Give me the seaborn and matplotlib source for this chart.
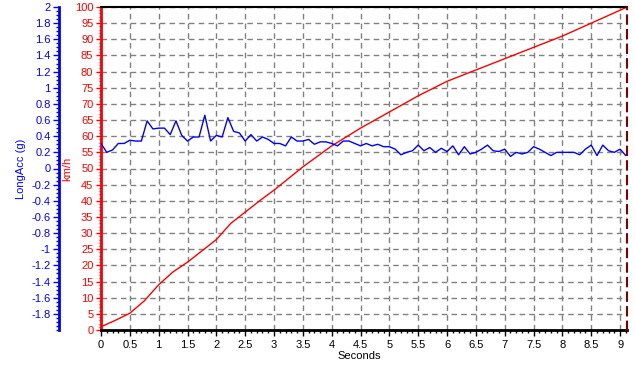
import numpy as np
import pandas as pd
import seaborn as sns
import matplotlib.pyplot as plt
import matplotlib.ticker as mticker


# longitudinal acceleration, sampled every 0.1 s (0.0 .. 9.1 s)
acc_time = [round(i * 0.1, 1) for i in range(92)]
long_acc = [
    0.31, 0.20, 0.23, 0.31, 0.31, 0.35, 0.34, 0.34, 0.59, 0.49,
    0.50, 0.50, 0.42, 0.59, 0.41, 0.34, 0.39, 0.39, 0.66, 0.34,
    0.41, 0.39, 0.63, 0.46, 0.44, 0.34, 0.42, 0.34, 0.39, 0.36,
    0.31, 0.31, 0.28, 0.39, 0.34, 0.34, 0.36, 0.30, 0.33, 0.33,
    0.31, 0.28, 0.34, 0.34, 0.31, 0.28, 0.31, 0.28, 0.30, 0.27,
    0.27, 0.24, 0.17, 0.20, 0.22, 0.29, 0.22, 0.26, 0.20, 0.25,
    0.21, 0.28, 0.17, 0.27, 0.18, 0.20, 0.24, 0.29, 0.22, 0.21,
    0.24, 0.15, 0.20, 0.18, 0.20, 0.27, 0.24, 0.20, 0.16, 0.20,
    0.20, 0.20, 0.20, 0.17, 0.24, 0.29, 0.16, 0.29, 0.22, 0.20,
    0.24, 0.16,
]

# vehicle speed
speed_time = [0, 0.25, 0.5, 0.75, 1, 1.25, 1.5, 1.75, 2, 2.25, 2.5, 2.75, 3, 3.5,
              4, 4.5, 4.75, 5, 5.25, 5.5, 6, 6.5, 7, 7.5, 8, 8.5, 9, 9.12]
speed_kmh = [1, 3, 5.2, 9, 14, 18, 21, 24.5, 28, 33, 36.5, 40, 43.3, 50.5,
             57, 62.5, 65, 67.5, 70, 72.5, 77, 80.5, 84, 87.5, 91, 95, 99, 100]

W, H = 635, 365
sns.set_style('white')
plt.rcParams['font.family'] = ['Liberation Sans', 'DejaVu Sans']
FS = 8

fig = plt.figure(figsize=(W / 100, H / 100), dpi=100)
ax = fig.add_axes([101 / W, 35 / H, 526 / W, 323 / H])
ax2 = ax.twinx()

df_speed = pd.DataFrame({'t': speed_time, 'v': speed_kmh})
df_acc = pd.DataFrame({'t': acc_time, 'a': long_acc})

sns.lineplot(data=df_speed, x='t', y='v', ax=ax, color='#ff0000', linewidth=1)
sns.lineplot(data=df_acc, x='t', y='a', ax=ax2, color='#0000ff', linewidth=1)

ax.set_xlim(0, 9.12)
ax.set_ylim(0, 100)
ax2.set_ylim(-2, 2)

fmt = mticker.FuncFormatter(lambda v, p: '{:g}'.format(round(v, 2) + 0.0))

# x axis
ax.xaxis.set_major_locator(mticker.MultipleLocator(0.5))
ax.xaxis.set_minor_locator(mticker.MultipleLocator(0.1))
ax.xaxis.set_major_formatter(fmt)
ax.tick_params(axis='x', which='major', length=4, width=1, colors='black',
               labelsize=FS, direction='out', bottom=True, pad=3)
ax.tick_params(axis='x', which='minor', length=2.5, width=1, colors='black',
               direction='out', bottom=True)

# red km/h axis
ax.yaxis.set_major_locator(mticker.MultipleLocator(5))
ax.yaxis.set_minor_locator(mticker.MultipleLocator(1))
ax.yaxis.set_major_formatter(fmt)
ax.tick_params(axis='y', which='major', length=3.5, width=1, colors='#ff0000',
               labelsize=FS, direction='out', left=True, pad=2)
ax.tick_params(axis='y', which='minor', length=1.5, width=1, colors='#ff0000',
               direction='out', left=True)

# blue acceleration axis, moved to the far left (42 px = 30.2 pt)
ax2.yaxis.set_ticks_position('left')
ax2.yaxis.set_label_position('left')
ax2.spines['left'].set_position(('outward', 30.2))
ax2.set_yticks(np.round(np.arange(-1.8, 2.01, 0.2), 1))
ax2.yaxis.set_minor_locator(mticker.MultipleLocator(0.05))
ax2.yaxis.set_major_formatter(fmt)
ax2.tick_params(axis='y', which='major', length=4, width=1, colors='#0000ff',
                labelsize=FS, direction='out', left=True, right=False, pad=2)
ax2.tick_params(axis='y', which='minor', length=2, width=1, colors='#0000ff',
                direction='out', left=True, right=False)

# grid
ax.grid(True, which='major', color='#808080', linestyle=(0, (4, 3)), linewidth=1)
ax.set_axisbelow(True)

# spines
ax.spines['left'].set_color('#ff0000')
ax.spines['left'].set_linewidth(2)
ax.spines['bottom'].set_color('black')
ax.spines['bottom'].set_linewidth(2)
ax.spines['top'].set_color('black')
ax.spines['top'].set_linewidth(1.5)
ax.spines['right'].set_visible(False)
ax2.spines['left'].set_color('#0000ff')
ax2.spines['left'].set_linewidth(2)
ax2.spines['right'].set_color('#800000')
ax2.spines['right'].set_linewidth(1.5)
ax2.spines['right'].set_linestyle((0, (4, 3)))
ax2.spines['top'].set_visible(False)
ax2.spines['bottom'].set_visible(False)

# labels
ax.set_xlabel('Seconds', fontsize=FS, color='black')
ax.xaxis.set_label_coords(0.49, -0.065)
ax.set_ylabel('km/h', fontsize=FS, color='#ff0000')
ax.yaxis.set_label_coords(-0.054, 0.5)
ax2.set_ylabel('LongAcc (g)', fontsize=FS, color='#0000ff')
ax2.yaxis.set_label_coords(-0.142, 0.5)

fig.savefig('out.png', dpi=100)
